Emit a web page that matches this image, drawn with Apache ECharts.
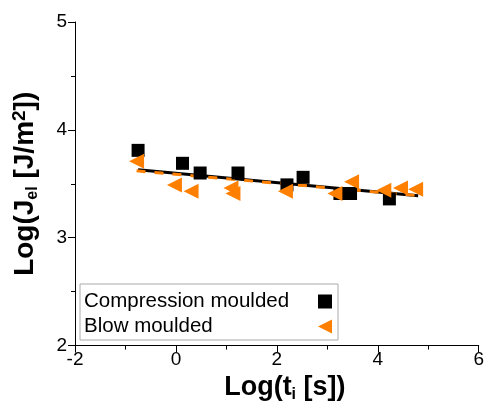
<!DOCTYPE html>
<html>
<head>
<meta charset="utf-8">
<script src="https://cdn.jsdelivr.net/npm/echarts@6/dist/echarts.min.js"></script>
<style>html,body{margin:0;padding:0;background:#fff}#c{width:487px;height:408px}</style>
</head>
<body>
<div id="c"></div>
<script>
// Compression moulded (x = Log t_i, y = Log J_el)
var compX = [-0.75, 0.13, 0.48, 1.23, 2.2, 2.52, 3.25, 3.46, 4.23];
var compY = [3.81, 3.69, 3.60, 3.60, 3.49, 3.56, 3.41, 3.41, 3.36];
// Blow moulded
var blowX = [-0.78, -0.03, 0.30, 1.09, 1.13, 2.17, 3.15, 3.48, 4.12, 4.45, 4.75];
var blowY = [3.71, 3.49, 3.43, 3.46, 3.41, 3.43, 3.41, 3.52, 3.44, 3.46, 3.45];
// fitted lines (endpoints)
var compFitX = [-0.75, 4.8];
var compFitY = [3.63, 3.39];
var blowFitX = [-0.78, 4.8];
var blowFitY = [3.62, 3.39];
var xTicks = [-2, 0, 2, 4, 6];
var yTicks = [2, 3, 4, 5];

function pairs(xs, ys) { return xs.map(function (x, i) { return [x, ys[i]]; }); }

var FONT = 'Liberation Sans';
var chart = echarts.init(document.getElementById('c'));
chart.setOption({
  animation: false,
  backgroundColor: '#fff',
  grid: { left: 75, top: 22, width: 405, height: 324, containLabel: false },
  xAxis: {
    type: 'value', min: xTicks[0], max: xTicks[xTicks.length - 1], interval: 2,
    axisLine: { onZero: false, lineStyle: { color: '#000', width: 1 } },
    axisTick: { show: true, inside: false, length: 7, lineStyle: { color: '#000' } },
    minorTick: { show: true, splitNumber: 2, length: 4, lineStyle: { color: '#000' } },
    splitLine: { show: false },
    axisLabel: { color: '#000', fontFamily: FONT, fontSize: 19, margin: 5 },
    name: '{a|Log(t}{s|i}{a| [s])}',
    nameLocation: 'middle', nameGap: 24,
    nameTextStyle: {
      padding: [0, 0, 0, 16],
      rich: {
        a: { fontFamily: FONT, fontSize: 27, fontWeight: 'bold', color: '#000' },
        s: { fontFamily: FONT, fontSize: 16, fontWeight: 'bold', color: '#000', padding: [14, 0, 0, 0] }
      }
    }
  },
  yAxis: {
    type: 'value', min: yTicks[0], max: yTicks[yTicks.length - 1], interval: 1,
    axisLine: { show: true, onZero: false, lineStyle: { color: '#000', width: 1 } },
    axisTick: { show: true, inside: false, length: 7, lineStyle: { color: '#000' } },
    minorTick: { show: true, splitNumber: 2, length: 4, lineStyle: { color: '#000' } },
    splitLine: { show: false },
    axisLabel: { color: '#000', fontFamily: FONT, fontSize: 19, margin: 8 },
    name: '{a|Log(J}{s|el}{a| [J/m}{p|2}{a|])}',
    nameLocation: 'middle', nameGap: 34, nameRotate: 90,
    nameTextStyle: {
      padding: [0, 0, 0, 0],
      rich: {
        a: { fontFamily: FONT, fontSize: 28, fontWeight: 'bold', color: '#000' },
        s: { fontFamily: FONT, fontSize: 16, fontWeight: 'bold', color: '#000', padding: [14, 0, 0, 0] },
        p: { fontFamily: FONT, fontSize: 19, fontWeight: 'bold', color: '#000', padding: [0, 0, 12, 0] }
      }
    }
  },
  legend: {
    left: 80, top: 284, orient: 'vertical', align: 'right',
    itemGap: 4, itemWidth: 14, itemHeight: 14,
    padding: [7, 6, 3, 4],
    borderColor: '#aaa', borderWidth: 1,
    formatter: '{n|{name}}',
    textStyle: {
      fontFamily: FONT, fontSize: 20.5, color: '#000',
      rich: { n: { fontFamily: FONT, fontSize: 20.5, color: '#000', width: 229, align: 'left' } }
    },
    data: [
      { name: 'Compression moulded', icon: 'rect' },
      { name: 'Blow moulded', icon: 'path://M0,5 L10,0 L10,10 Z', itemStyle: { color: '#ff8000' } }
    ]
  },
  series: [
    { name: 'compFit', type: 'line', data: pairs(compFitX, compFitY), symbol: 'none',
      lineStyle: { color: '#000', width: 3 }, z: 2 },
    { name: 'blowFit', type: 'line', data: pairs(blowFitX, blowFitY), symbol: 'none',
      lineStyle: { color: '#ff8000', width: 3, type: [9, 9] }, z: 3 },
    { name: 'Compression moulded', type: 'scatter', data: pairs(compX, compY),
      symbol: 'rect', symbolSize: 13, itemStyle: { color: '#000', opacity: 1 }, z: 4 },
    { name: 'Blow moulded', type: 'scatter', data: pairs(blowX, blowY),
      symbol: 'triangle', symbolSize: 15, symbolRotate: 90,
      itemStyle: { color: '#ff8000', opacity: 1 }, z: 5 }
  ]
});
</script>
</body>
</html>
